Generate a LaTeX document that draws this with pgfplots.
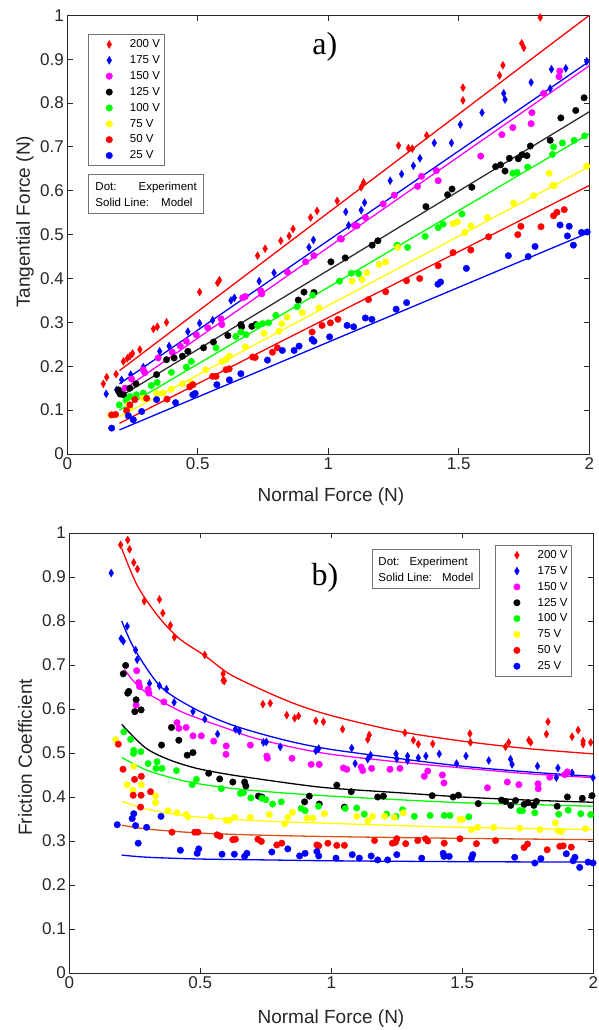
\documentclass[border=0pt]{standalone}
\usepackage{pgfplots}
\pgfplotsset{compat=1.18}
\usepackage{fontspec}
\setmainfont{Liberation Sans}
\newfontfamily\timesfont{Liberation Serif}
\definecolor{cR}{rgb}{1,0,0}
\definecolor{cB}{rgb}{0,0,1}
\definecolor{cM}{rgb}{1,0,1}
\definecolor{cK}{rgb}{0,0,0}
\definecolor{cG}{rgb}{0,1,0}
\definecolor{cY}{rgb}{1,1,0}
\definecolor{cO}{rgb}{0.85,0.33,0.1}
\definecolor{cKl}{rgb}{0.18,0.18,0.18}
\definecolor{axc}{rgb}{0.15,0.15,0.15}
\newcommand{\ls}{\rule[-4.6pt]{0pt}{15.86pt}}
\pgfplotsset{
  dia/.style={only marks, mark=diamond*, mark size=4pt, color=#1, mark options={xscale=0.8, fill=#1, draw=#1, line width=0.3pt}},
  cir/.style={only marks, mark=*, mark size=3.3pt, color=#1, mark options={fill=#1, draw=#1, line width=0.3pt}},
  mod/.style={no markers, line width=1.3pt, color=#1, forget plot},
  myaxis/.style={
    scale only axis, clip=false,
    xmin=0, xmax=2, ymin=0, ymax=1,
    xtick={0,0.5,1,1.5,2},
    ytick={0,0.1,0.2,0.3,0.4,0.5,0.6,0.7,0.8,0.9,1},
    tick align=inside, major tick length=5.5pt,
    axis line style={draw=axc, line width=0.8pt},
    every tick/.style={axc, line width=0.8pt},
    tick label style={font=\fontsize{17}{17}\selectfont, text=axc},
    /pgf/number format/assume math mode=true,
    legend cell align=left,
    legend image code/.code={\path[draw=none,fill=none] (0pt,-4pt) rectangle (28pt,4pt); \draw[##1] plot coordinates {(17.3pt,0pt)};},
  },
}
\begin{document}
\begin{tikzpicture}
% ---------------- top axis ----------------
\begin{axis}[myaxis,
  at={(67.3pt,576pt)}, anchor=south west, width=522pt, height=438.7pt,
  xlabel={Normal Force (N)}, ylabel={Tangential Force (N)},
  every axis x label/.style={at={(axis description cs:0.505,-0.098)}, anchor=center, font=\fontsize{19}{19}\selectfont, text=axc},
  every axis y label/.style={at={(axis description cs:-0.081,0.529)}, rotate=90, anchor=center, font=\fontsize{19}{19}\selectfont, text=axc},
  legend style={at={(axis description cs:0.039,0.957)}, anchor=north west, draw=black!55, line width=0.6pt,
    font=\fontsize{11.5}{15.86}\selectfont, inner xsep=4pt, inner ysep=2.1pt, row sep=0pt, column sep=10pt,
    nodes={inner sep=0pt, text depth=4.6pt}},
]
\addplot[dia=cR] coordinates {(0.138,0.16)(0.151,0.175)(0.187,0.182)(0.215,0.211)(0.23,0.218)(0.24,0.223)(0.25,0.229)(0.278,0.238)(0.33,0.285)(0.345,0.29)(0.38,0.30)(0.507,0.369)(0.576,0.39)(0.583,0.396)(0.729,0.452)(0.758,0.468)(0.818,0.486)(0.85,0.497)(0.865,0.513)(0.932,0.539)(0.957,0.554)(1.034,0.577)(1.126,0.608)(1.135,0.619)(1.269,0.703)(1.307,0.697)(1.322,0.696)(1.377,0.726)(1.516,0.806)(1.516,0.835)(1.656,0.863)(1.669,0.886)(1.741,0.936)(1.749,0.926)(1.812,0.995)};
\addlegendentry{\ls 200 V}
\addplot[dia=cB] coordinates {(0.149,0.137)(0.189,0.146)(0.208,0.169)(0.243,0.181)(0.291,0.198)(0.354,0.234)(0.39,0.246)(0.462,0.279)(0.507,0.298)(0.557,0.305)(0.627,0.35)(0.64,0.356)(0.735,0.394)(0.792,0.413)(0.926,0.471)(0.943,0.488)(1.067,0.552)(1.078,0.521)(1.126,0.556)(1.139,0.573)(1.237,0.623)(1.281,0.638)(1.326,0.657)(1.351,0.674)(1.406,0.709)(1.472,0.709)(1.506,0.751)(1.589,0.778)(1.672,0.822)(1.677,0.808)(1.777,0.847)(1.85,0.833)(1.855,0.877)(1.91,0.879)(1.99,0.895)};
\addlegendentry{\ls 175 V}
\addplot[cir=cM] coordinates {(0.221,0.15)(0.246,0.171)(0.291,0.192)(0.297,0.185)(0.348,0.219)(0.402,0.232)(0.433,0.246)(0.456,0.257)(0.494,0.272)(0.538,0.288)(0.589,0.308)(0.592,0.295)(0.672,0.356)(0.682,0.359)(0.741,0.372)(0.745,0.365)(0.843,0.415)(0.913,0.438)(0.945,0.452)(1.046,0.491)(1.05,0.49)(1.1,0.521)(1.11,0.52)(1.142,0.539)(1.21,0.57)(1.253,0.59)(1.342,0.61)(1.357,0.633)(1.414,0.646)(1.421,0.623)(1.584,0.679)(1.665,0.728)(1.707,0.744)(1.777,0.753)(1.78,0.778)(1.825,0.822)(1.884,0.86)(1.887,0.873)};
\addlegendentry{\ls 150 V}
\addplot[cir=cK] coordinates {(0.196,0.146)(0.202,0.137)(0.215,0.135)(0.24,0.15)(0.263,0.16)(0.342,0.181)(0.38,0.215)(0.409,0.219)(0.441,0.223)(0.462,0.234)(0.522,0.242)(0.56,0.255)(0.615,0.27)(0.665,0.295)(0.668,0.29)(0.707,0.291)(0.722,0.295)(0.885,0.351)(0.907,0.369)(0.945,0.368)(1.01,0.438)(1.065,0.447)(1.168,0.476)(1.19,0.486)(1.374,0.564)(1.457,0.591)(1.474,0.604)(1.55,0.608)(1.641,0.655)(1.66,0.659)(1.677,0.645)(1.694,0.674)(1.728,0.673)(1.742,0.682)(1.761,0.68)(1.774,0.702)(1.85,0.715)(1.891,0.766)(1.948,0.783)(1.98,0.812)};
\addlegendentry{\ls 125 V}
\addplot[cir=cG] coordinates {(0.199,0.112)(0.225,0.122)(0.24,0.131)(0.265,0.135)(0.291,0.139)(0.322,0.156)(0.344,0.163)(0.399,0.186)(0.456,0.198)(0.475,0.211)(0.57,0.242)(0.646,0.268)(0.665,0.278)(0.685,0.272)(0.729,0.293)(0.748,0.297)(0.771,0.299)(0.799,0.316)(0.881,0.336)(0.94,0.362)(1.043,0.394)(1.088,0.412)(1.116,0.411)(1.263,0.476)(1.304,0.471)(1.371,0.496)(1.421,0.516)(1.44,0.524)(1.512,0.547)(1.707,0.64)(1.723,0.642)(1.764,0.654)(1.859,0.683)(1.863,0.70)(1.897,0.709)(1.942,0.715)(1.982,0.725)};
\addlegendentry{\ls 100 V}
\addplot[cir=cY] coordinates {(0.166,0.089)(0.18,0.089)(0.234,0.112)(0.24,0.105)(0.291,0.127)(0.342,0.139)(0.367,0.139)(0.399,0.148)(0.441,0.16)(0.475,0.162)(0.53,0.192)(0.593,0.211)(0.608,0.215)(0.621,0.223)(0.682,0.244)(0.754,0.275)(0.811,0.28)(0.822,0.297)(0.843,0.312)(0.9,0.322)(0.964,0.333)(1.091,0.394)(1.129,0.398)(1.148,0.413)(1.195,0.432)(1.22,0.438)(1.266,0.471)(1.478,0.525)(1.495,0.529)(1.523,0.505)(1.546,0.52)(1.609,0.539)(1.71,0.572)(1.787,0.589)(1.846,0.64)(1.859,0.612)(1.866,0.612)(1.99,0.656)};
\addlegendentry{\ls 75 V}
\addplot[cir=cR] coordinates {(0.17,0.089)(0.185,0.09)(0.227,0.099)(0.24,0.112)(0.259,0.124)(0.304,0.127)(0.382,0.125)(0.469,0.153)(0.481,0.158)(0.557,0.177)(0.57,0.177)(0.608,0.192)(0.62,0.194)(0.71,0.221)(0.72,0.22)(0.786,0.232)(0.805,0.242)(0.938,0.278)(0.976,0.293)(1.008,0.299)(1.037,0.307)(1.154,0.352)(1.22,0.37)(1.3,0.395)(1.35,0.40)(1.421,0.429)(1.478,0.459)(1.546,0.465)(1.614,0.495)(1.726,0.5)(1.738,0.519)(1.815,0.518)(1.863,0.543)(1.876,0.551)(1.904,0.557)};
\addlegendentry{\ls 50 V}
\addplot[cir=cB] coordinates {(0.17,0.059)(0.234,0.087)(0.253,0.078)(0.285,0.097)(0.342,0.124)(0.415,0.117)(0.481,0.135)(0.49,0.138)(0.573,0.158)(0.621,0.169)(0.665,0.183)(0.767,0.214)(0.824,0.236)(0.869,0.236)(0.888,0.246)(0.938,0.261)(0.945,0.257)(1.005,0.267)(1.072,0.293)(1.097,0.29)(1.142,0.31)(1.167,0.307)(1.26,0.33)(1.3,0.345)(1.42,0.387)(1.43,0.392)(1.529,0.423)(1.69,0.452)(1.766,0.45)(1.792,0.473)(1.888,0.522)(1.916,0.497)(1.923,0.519)(1.939,0.476)(1.97,0.505)(1.992,0.506)};
\addlegendentry{\ls 25 V}
\addplot[mod=cR] coordinates {(0.2,0.19)(2,1.0)};
\addplot[mod=cB] coordinates {(0.2,0.16)(2,0.895)};
\addplot[mod=cM] coordinates {(0.2,0.14)(2,0.885)};
\addplot[mod=cKl] coordinates {(0.2,0.13)(2,0.78)};
\addplot[mod=cG] coordinates {(0.2,0.10)(2,0.73)};
\addplot[mod=cY] coordinates {(0.2,0.085)(2,0.655)};
\addplot[mod=cR] coordinates {(0.2,0.07)(2,0.612)};
\addplot[mod=cB] coordinates {(0.2,0.055)(2,0.505)};
\node[draw=black!55, line width=0.6pt, fill=white, anchor=north west, align=left, inner xsep=6.7pt, inner ysep=7.5pt,
  font=\fontsize{11.5}{15.7}\selectfont] at (axis description cs:0.0406,0.6376)
  {Dot:\hspace{22pt}Experiment\\Solid Line:\hspace{12pt}Model};
\node[font=\timesfont\fontsize{32}{32}\selectfont] at (axis cs:0.987,0.928) {a)};
\end{axis}
% ---------------- bottom axis ----------------
\begin{axis}[myaxis,
  at={(69.3pt,57pt)}, anchor=south west, width=524pt, height=440pt,
  xlabel={Normal Force (N)}, ylabel={Friction Coefficient},
  every axis x label/.style={at={(axis description cs:0.4994,-0.104)}, anchor=center, font=\fontsize{19}{19}\selectfont, text=axc},
  every axis y label/.style={at={(axis description cs:-0.0845,0.49)}, rotate=90, anchor=center, font=\fontsize{19}{19}\selectfont, text=axc},
  legend style={at={(axis description cs:0.813,0.973)}, anchor=north west, draw=black!55, line width=0.6pt,
    font=\fontsize{11.5}{15.86}\selectfont, inner xsep=4pt, inner ysep=2.1pt, row sep=0pt, column sep=10pt,
    nodes={inner sep=0pt, text depth=4.6pt}},
]
\addplot[dia=cR] coordinates {(0.196,0.973)(0.223,0.984)(0.23,0.963)(0.246,0.933)(0.26,0.918)(0.286,0.845)(0.344,0.849)(0.357,0.818)(0.386,0.79)(0.401,0.763)(0.517,0.723)(0.587,0.68)(0.587,0.665)(0.592,0.664)(0.739,0.611)(0.767,0.613)(0.83,0.586)(0.86,0.579)(0.875,0.584)(0.941,0.573)(0.97,0.571)(1.043,0.554)(1.139,0.531)(1.145,0.541)(1.281,0.546)(1.313,0.529)(1.332,0.52)(1.387,0.521)(1.529,0.544)(1.531,0.524)(1.665,0.514)(1.677,0.524)(1.754,0.529)(1.761,0.524)(1.821,0.543)(1.827,0.571)(1.919,0.537)(1.942,0.552)(1.961,0.527)(1.961,0.52)(1.99,0.524)};
\addlegendentry{\ls 200 V}
\addplot[dia=cB] coordinates {(0.16,0.909)(0.198,0.76)(0.206,0.754)(0.221,0.788)(0.253,0.734)(0.259,0.712)(0.306,0.658)(0.344,0.653)(0.371,0.645)(0.4,0.615)(0.472,0.594)(0.517,0.577)(0.566,0.543)(0.634,0.554)(0.649,0.55)(0.741,0.524)(0.752,0.525)(0.805,0.514)(0.941,0.505)(0.952,0.51)(1.078,0.511)(1.091,0.476)(1.139,0.486)(1.15,0.495)(1.247,0.498)(1.25,0.487)(1.291,0.493)(1.291,0.483)(1.332,0.489)(1.361,0.493)(1.412,0.498)(1.478,0.476)(1.514,0.493)(1.601,0.483)(1.684,0.486)(1.69,0.474)(1.787,0.47)(1.865,0.466)(1.859,0.444)(1.919,0.455)(1.999,0.444)};
\addlegendentry{\ls 175 V}
\addplot[cir=cM] coordinates {(0.257,0.687)(0.265,0.66)(0.268,0.651)(0.255,0.609)(0.301,0.645)(0.304,0.636)(0.361,0.616)(0.411,0.569)(0.418,0.556)(0.446,0.558)(0.472,0.539)(0.504,0.539)(0.551,0.527)(0.599,0.516)(0.598,0.497)(0.691,0.518)(0.754,0.493)(0.756,0.488)(0.85,0.488)(0.923,0.474)(0.954,0.474)(1.046,0.466)(1.059,0.463)(1.114,0.468)(1.12,0.46)(1.154,0.465)(1.224,0.463)(1.262,0.465)(1.355,0.447)(1.368,0.459)(1.424,0.45)(1.43,0.432)(1.596,0.421)(1.672,0.434)(1.716,0.428)(1.789,0.43)(1.79,0.419)(1.834,0.445)(1.891,0.451)(1.901,0.457)};
\addlegendentry{\ls 150 V}
\addplot[cir=cK] coordinates {(0.215,0.699)(0.206,0.68)(0.223,0.636)(0.227,0.64)(0.255,0.621)(0.25,0.594)(0.274,0.598)(0.352,0.518)(0.39,0.558)(0.418,0.529)(0.45,0.495)(0.472,0.501)(0.532,0.454)(0.574,0.441)(0.624,0.434)(0.669,0.434)(0.674,0.425)(0.722,0.402)(0.735,0.4)(0.898,0.389)(0.916,0.402)(0.954,0.384)(1.021,0.427)(1.05,0.377)(1.076,0.412)(1.177,0.4)(1.199,0.402)(1.385,0.403)(1.465,0.4)(1.485,0.404)(1.561,0.385)(1.65,0.393)(1.665,0.39)(1.685,0.381)(1.703,0.392)(1.736,0.383)(1.751,0.387)(1.773,0.381)(1.783,0.39)(1.862,0.379)(1.901,0.40)(1.958,0.397)(1.995,0.403)};
\addlegendentry{\ls 125 V}
\addplot[cir=cG] coordinates {(0.208,0.548)(0.234,0.531)(0.246,0.506)(0.245,0.499)(0.273,0.503)(0.301,0.476)(0.335,0.48)(0.331,0.465)(0.354,0.465)(0.409,0.46)(0.469,0.428)(0.485,0.44)(0.58,0.419)(0.653,0.408)(0.665,0.41)(0.693,0.398)(0.735,0.397)(0.75,0.394)(0.776,0.384)(0.809,0.389)(0.885,0.374)(0.9,0.369)(0.951,0.379)(1.053,0.374)(1.097,0.375)(1.126,0.361)(1.211,0.361)(1.247,0.356)(1.272,0.371)(1.317,0.356)(1.377,0.358)(1.431,0.358)(1.453,0.358)(1.525,0.355)(1.719,0.369)(1.73,0.369)(1.777,0.364)(1.868,0.361)(1.904,0.37)(1.952,0.362)(1.99,0.36)};
\addlegendentry{\ls 100 V}
\addplot[cir=cY] coordinates {(0.177,0.53)(0.246,0.47)(0.221,0.428)(0.275,0.428)(0.243,0.415)(0.329,0.402)(0.329,0.387)(0.377,0.369)(0.411,0.364)(0.446,0.36)(0.453,0.355)(0.541,0.355)(0.599,0.347)(0.611,0.347)(0.631,0.354)(0.691,0.354)(0.763,0.36)(0.822,0.339)(0.834,0.354)(0.852,0.365)(0.907,0.352)(0.93,0.352)(0.974,0.362)(1.097,0.356)(1.139,0.346)(1.157,0.356)(1.203,0.356)(1.24,0.354)(1.275,0.364)(1.491,0.349)(1.5,0.349)(1.535,0.326)(1.558,0.331)(1.62,0.331)(1.719,0.329)(1.796,0.326)(1.855,0.341)(1.865,0.323)(1.878,0.322)(1.97,0.328)};
\addlegendentry{\ls 75 V}
\addplot[cir=cR] coordinates {(0.187,0.52)(0.205,0.463)(0.249,0.44)(0.275,0.447)(0.244,0.404)(0.274,0.404)(0.31,0.412)(0.272,0.377)(0.392,0.32)(0.479,0.32)(0.491,0.32)(0.564,0.314)(0.575,0.311)(0.624,0.303)(0.634,0.304)(0.72,0.304)(0.733,0.299)(0.792,0.291)(0.811,0.295)(0.945,0.291)(0.952,0.289)(0.987,0.295)(1.021,0.29)(1.05,0.29)(1.165,0.301)(1.233,0.295)(1.245,0.297)(1.25,0.305)(1.284,0.294)(1.33,0.301)(1.36,0.305)(1.368,0.3)(1.431,0.295)(1.491,0.305)(1.554,0.294)(1.627,0.301)(1.736,0.285)(1.749,0.293)(1.824,0.28)(1.872,0.288)(1.885,0.289)(1.916,0.286)};
\addlegendentry{\ls 50 V}
\addplot[cir=cB] coordinates {(0.183,0.337)(0.24,0.351)(0.246,0.362)(0.253,0.335)(0.263,0.295)(0.295,0.331)(0.35,0.356)(0.424,0.279)(0.488,0.272)(0.494,0.282)(0.583,0.27)(0.63,0.27)(0.669,0.265)(0.678,0.272)(0.773,0.275)(0.834,0.282)(0.879,0.266)(0.9,0.272)(0.945,0.276)(0.952,0.266)(1.018,0.261)(1.08,0.269)(1.107,0.261)(1.152,0.266)(1.177,0.257)(1.215,0.257)(1.25,0.269)(1.345,0.261)(1.427,0.272)(1.43,0.265)(1.45,0.265)(1.535,0.261)(1.54,0.269)(1.7,0.263)(1.777,0.25)(1.8,0.26)(1.897,0.271)(1.923,0.255)(1.93,0.263)(1.948,0.24)(1.98,0.252)(1.999,0.25)};
\addlegendentry{\ls 25 V}
\addplot[mod=cR, smooth] coordinates {(0.2,0.965)(0.26,0.88)(0.34,0.81)(0.42,0.76)(0.52,0.72)(0.61,0.68)(0.73,0.645)(0.86,0.612)(1.0,0.585)(1.25,0.55)(1.5,0.527)(1.75,0.51)(2.0,0.498)};
\addplot[mod=cB, smooth] coordinates {(0.2,0.80)(0.25,0.735)(0.35,0.65)(0.48,0.60)(0.61,0.566)(0.735,0.543)(0.86,0.524)(1.0,0.508)(1.25,0.488)(1.5,0.47)(1.75,0.457)(2.0,0.447)};
\addplot[mod=cM, smooth] coordinates {(0.21,0.69)(0.25,0.66)(0.3,0.635)(0.42,0.596)(0.5,0.577)(0.61,0.554)(0.7,0.535)(0.86,0.512)(1.0,0.497)(1.25,0.48)(1.5,0.466)(1.75,0.453)(2.0,0.444)};
\addplot[mod=cK, smooth] coordinates {(0.2,0.565)(0.29,0.512)(0.38,0.485)(0.48,0.466)(0.6,0.452)(0.735,0.44)(0.88,0.428)(1.0,0.42)(1.25,0.41)(1.5,0.40)(1.75,0.393)(2.0,0.388)};
\addplot[mod=cG, smooth] coordinates {(0.2,0.49)(0.3,0.46)(0.45,0.435)(0.6,0.421)(0.8,0.41)(1.0,0.402)(1.25,0.394)(1.5,0.387)(1.75,0.383)(2.0,0.379)};
\addplot[mod=cY, smooth] coordinates {(0.2,0.39)(0.3,0.372)(0.45,0.357)(0.6,0.35)(0.8,0.344)(1.0,0.34)(1.5,0.331)(2.0,0.326)};
\addplot[mod=cO, smooth] coordinates {(0.2,0.336)(0.3,0.327)(0.5,0.318)(0.75,0.313)(1.0,0.31)(1.5,0.306)(2.0,0.303)};
\addplot[mod=cB, smooth] coordinates {(0.2,0.268)(0.3,0.263)(0.5,0.259)(0.75,0.257)(1.0,0.255)(1.5,0.253)(2.0,0.252)};
\node[draw=black!55, line width=0.6pt, fill=white, anchor=north west, align=left, inner xsep=6pt, inner ysep=7.5pt,
  font=\fontsize{11.5}{15.7}\selectfont] at (axis description cs:0.578,0.963)
  {Dot:\hspace{10pt}Experiment\\Solid Line:\hspace{10pt}Model};
\node[font=\timesfont\fontsize{32}{32}\selectfont] at (axis cs:0.976,0.898) {b)};
\end{axis}
\pgfresetboundingbox
\path[use as bounding box] (0pt,0pt) rectangle (598pt,1030pt);
\end{tikzpicture}
\end{document}
